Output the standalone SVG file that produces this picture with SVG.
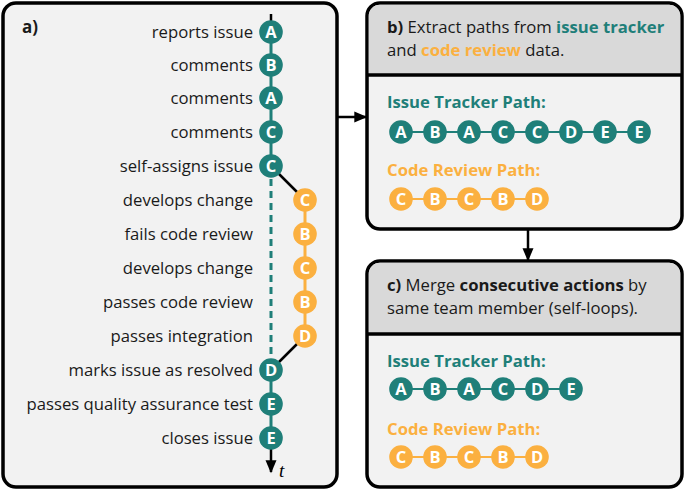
<svg xmlns="http://www.w3.org/2000/svg" width="685" height="490" viewBox="0 0 685 490">
<style>
.panel{fill:#f2f2f2;stroke:#000;stroke-width:3.5}
.head{fill:#d9d9d9}
.lbl{font-family:"Open Sans","Noto Sans",sans-serif;font-size:16.7px;fill:#1a1a1a;text-anchor:end}
.ht{font-family:"Open Sans","Noto Sans",sans-serif;font-size:16.7px;fill:#1a1a1a}
.b{font-weight:bold}
.tl{fill:#1f7f79}
.or{fill:#fbb040}
.ptitle{font-family:"Open Sans","Noto Sans",sans-serif;font-size:16.7px;font-weight:bold}
.ct{fill:#1f7f79}
.co{fill:#fbb040}
.let{font-family:"Open Sans","Noto Sans",sans-serif;font-size:16.5px;font-weight:bold;fill:#fff;text-anchor:middle}
.tline{stroke:#1f7f79;stroke-width:3;fill:none}
.oline{stroke:#fbb040;stroke-width:3;fill:none}
.blk{stroke:#000;stroke-width:2.5;fill:none}
</style>
<defs>
<marker id="ah" viewBox="0 0 10 10" refX="9" refY="5" markerWidth="13" markerHeight="11" orient="auto" markerUnits="userSpaceOnUse" overflow="visible" preserveAspectRatio="none">
<path d="M0,0 L10,5 L0,10 z" fill="#000"/>
</marker>
<g id="tc"><circle r="11.8" class="ct"/></g>
<g id="oc"><circle r="11.8" class="co"/></g>
</defs>

<!-- Panel a -->
<g id="panelA">
<rect class="panel" x="3" y="3" width="334" height="484" rx="13"/>
<text x="22" y="33" class="ht b" style="font-size:17px">a)</text>
</g>

<!-- Panel b -->
<g id="panelB">
<rect class="panel" x="367" y="3" width="315" height="226" rx="13"/>
<path class="head" d="M380,4.75 H668.25 A11.25,11.25 0 0 1 680.25,16 V75 H368.75 V16 A11.25,11.25 0 0 1 380,4.75 z"/>
<line x1="367" y1="75" x2="682" y2="75" stroke="#000" stroke-width="3.5"/>
<text x="387" y="33" class="ht"><tspan class="b">b)</tspan> Extract paths from <tspan class="b tl">issue tracker</tspan></text>
<text x="387" y="56" class="ht">and <tspan class="b or">code review</tspan> data.</text>
<text x="387" y="108" class="ptitle tl">Issue Tracker Path:</text>
<text x="387" y="176" class="ptitle or">Code Review Path:</text>
</g>

<!-- Panel c -->
<g id="panelC">
<rect class="panel" x="367" y="261" width="315" height="226" rx="13"/>
<path class="head" d="M380,262.75 H668.25 A11.25,11.25 0 0 1 680.25,274 V334 H368.75 V274 A11.25,11.25 0 0 1 380,262.75 z"/>
<line x1="367" y1="334" x2="682" y2="334" stroke="#000" stroke-width="3.5"/>
<text x="387" y="291" class="ht"><tspan class="b">c)</tspan> Merge <tspan class="b">consecutive actions</tspan> by</text>
<text x="387" y="314" class="ht">same team member (self-loops).</text>
<text x="387" y="367" class="ptitle tl">Issue Tracker Path:</text>
<text x="387" y="435" class="ptitle or">Code Review Path:</text>
</g>

<!-- Connectors -->
<g id="connectors">
<line x1="271" y1="14" x2="271" y2="21" class="blk"/>
<line x1="271" y1="21" x2="271" y2="166" class="tline"/>
<line x1="271" y1="179" x2="271" y2="360" class="tline" stroke-dasharray="7,5"/>
<line x1="271" y1="370" x2="271" y2="438" class="tline"/>
<line x1="271" y1="449" x2="271" y2="472" class="blk" marker-end="url(#ah)"/>
<line x1="271" y1="166" x2="305" y2="200" class="blk"/>
<line x1="305" y1="336" x2="271" y2="370" class="blk"/>
<line x1="305" y1="200" x2="305" y2="336" class="oline"/>
<line x1="338" y1="117" x2="366" y2="117" class="blk" marker-end="url(#ah)"/>
<line x1="528" y1="230" x2="528" y2="260" class="blk" marker-end="url(#ah)"/>
<line x1="400" y1="132" x2="639" y2="132" stroke="#1f7f79" stroke-width="2"/>
<line x1="400" y1="199" x2="536" y2="199" stroke="#fbb040" stroke-width="2"/>
<line x1="400" y1="389" x2="570" y2="389" stroke="#1f7f79" stroke-width="2"/>
<line x1="400" y1="457" x2="536" y2="457" stroke="#fbb040" stroke-width="2"/>
</g>
<text x="279" y="477" font-family="'Liberation Serif',serif" font-style="italic" font-size="19" fill="#000">t</text>

<!-- Timeline nodes -->
<g id="n1"><use href="#tc" x="271" y="32"/><text x="271" y="38" class="let">A</text><text x="253" y="38" class="lbl">reports issue</text></g>
<g id="n2"><use href="#tc" x="271" y="65"/><text x="271" y="71" class="let">B</text><text x="253" y="71" class="lbl">comments</text></g>
<g id="n3"><use href="#tc" x="271" y="98"/><text x="271" y="104" class="let">A</text><text x="253" y="104" class="lbl">comments</text></g>
<g id="n4"><use href="#tc" x="271" y="132"/><text x="271" y="138" class="let">C</text><text x="253" y="138" class="lbl">comments</text></g>
<g id="n5"><use href="#tc" x="271" y="166"/><text x="271" y="172" class="let">C</text><text x="253" y="172" class="lbl">self-assigns issue</text></g>
<g id="n6"><use href="#oc" x="305" y="200"/><text x="305" y="206" class="let">C</text><text x="253" y="206" class="lbl">develops change</text></g>
<g id="n7"><use href="#oc" x="305" y="234"/><text x="305" y="240" class="let">B</text><text x="253" y="240" class="lbl">fails code review</text></g>
<g id="n8"><use href="#oc" x="305" y="268"/><text x="305" y="274" class="let">C</text><text x="253" y="274" class="lbl">develops change</text></g>
<g id="n9"><use href="#oc" x="305" y="302"/><text x="305" y="308" class="let">B</text><text x="253" y="308" class="lbl">passes code review</text></g>
<g id="n10"><use href="#oc" x="305" y="336"/><text x="305" y="342" class="let">D</text><text x="253" y="342" class="lbl">passes integration</text></g>
<g id="n11"><use href="#tc" x="271" y="370"/><text x="271" y="376" class="let">D</text><text x="253" y="376" class="lbl">marks issue as resolved</text></g>
<g id="n12"><use href="#tc" x="271" y="404"/><text x="271" y="410" class="let">E</text><text x="253" y="410" class="lbl">passes quality assurance test</text></g>
<g id="n13"><use href="#tc" x="271" y="438"/><text x="271" y="444" class="let">E</text><text x="253" y="444" class="lbl">closes issue</text></g>

<!-- Panel b paths -->
<g id="b_issue">
<use href="#tc" x="401" y="132"/><text x="401" y="138" class="let">A</text>
<use href="#tc" x="435" y="132"/><text x="435" y="138" class="let">B</text>
<use href="#tc" x="469" y="132"/><text x="469" y="138" class="let">A</text>
<use href="#tc" x="503" y="132"/><text x="503" y="138" class="let">C</text>
<use href="#tc" x="537" y="132"/><text x="537" y="138" class="let">C</text>
<use href="#tc" x="571" y="132"/><text x="571" y="138" class="let">D</text>
<use href="#tc" x="605" y="132"/><text x="605" y="138" class="let">E</text>
<use href="#tc" x="639" y="132"/><text x="639" y="138" class="let">E</text>
</g>
<g id="b_review">
<use href="#oc" x="401" y="199"/><text x="401" y="205" class="let">C</text>
<use href="#oc" x="435" y="199"/><text x="435" y="205" class="let">B</text>
<use href="#oc" x="469" y="199"/><text x="469" y="205" class="let">C</text>
<use href="#oc" x="503" y="199"/><text x="503" y="205" class="let">B</text>
<use href="#oc" x="537" y="199"/><text x="537" y="205" class="let">D</text>
</g>
<g id="c_issue">
<use href="#tc" x="401" y="389"/><text x="401" y="395" class="let">A</text>
<use href="#tc" x="435" y="389"/><text x="435" y="395" class="let">B</text>
<use href="#tc" x="469" y="389"/><text x="469" y="395" class="let">A</text>
<use href="#tc" x="503" y="389"/><text x="503" y="395" class="let">C</text>
<use href="#tc" x="537" y="389"/><text x="537" y="395" class="let">D</text>
<use href="#tc" x="571" y="389"/><text x="571" y="395" class="let">E</text>
</g>
<g id="c_review">
<use href="#oc" x="401" y="457"/><text x="401" y="463" class="let">C</text>
<use href="#oc" x="435" y="457"/><text x="435" y="463" class="let">B</text>
<use href="#oc" x="469" y="457"/><text x="469" y="463" class="let">C</text>
<use href="#oc" x="503" y="457"/><text x="503" y="463" class="let">B</text>
<use href="#oc" x="537" y="457"/><text x="537" y="463" class="let">D</text>
</g>
</svg>
